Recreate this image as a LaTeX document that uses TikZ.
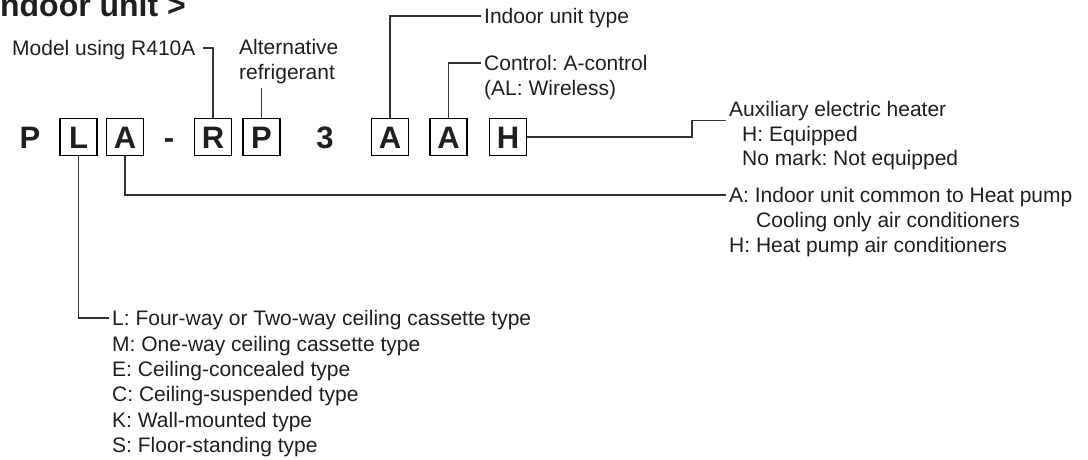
\documentclass[tikz,border=0pt]{standalone}
\usepackage{fontspec}
\setmainfont{Liberation Sans}
\usepackage{tikz}
\frenchspacing

\begin{document}
\begin{tikzpicture}[x=1pt, y=-1pt,
    lbl/.style={anchor=west, inner xsep=3pt, inner ysep=0pt, text height=15pt, text depth=0pt,
        font=\fontsize{21}{25}\selectfont, text=black!88},
    letter/.style={draw, line width=1.3pt, minimum width=37pt, minimum height=37pt, inner sep=0pt,
        text height=22pt, text depth=0pt, font=\fontsize{31}{31}\selectfont\bfseries, text=black!88},
    plain/.style={inner sep=0pt, text height=22pt, text depth=0pt,
        font=\fontsize{31}{31}\selectfont\bfseries, text=black!88},
    lead/.style={line width=1.1pt, draw=black!80}]
    \clip (0,0) rectangle (1088,459);
    \node[anchor=base west, inner sep=0pt, font=\fontsize{32}{32}\selectfont\bfseries, text=black!88] (title) at (-9,16) {Indoor unit >};

    % model code row
    \node[plain] (cP) at (30,137) {P};
    \node[letter] (bL) at (78.5,137) {L};
    \node[letter] (bA) at (125,137) {A};
    \node[plain] (dash) at (169,137) {-};
    \node[letter] (bR) at (213,137) {R};
    \node[letter] (bP) at (261.5,137) {P};
    \node[plain] (three) at (325,137) {3};
    \node[letter] (bA3) at (390,137) {A};
    \node[letter] (bA4) at (448.5,137) {A};
    \node[letter] (bH) at (508,137) {H};

    % labels above
    \node[lbl] (model) at (9,48) {Model using R410A};
    \node[lbl] (alt) at (236,47) {Alternative};
    \node[lbl] (refrig) at (236,72) {refrigerant};
    \node[lbl] (iut) at (481,16) {Indoor unit type};
    \node[lbl] (ctrl) at (481,63) {Control: A-control};
    \node[lbl] (wless) at (481,88) {(AL: Wireless)};

    % labels on the right
    \node[lbl] (aux) at (726,109) {Auxiliary electric heater};
    \node[lbl] (hEqp) at (739,133.5) {H: Equipped};
    \node[lbl] (noMark) at (739,158) {No mark: Not equipped};
    \node[lbl] (aCommon) at (726,195) {A: Indoor unit common to Heat pump};
    \node[lbl] (cooling) at (753,220) {Cooling only air conditioners};
    \node[lbl] (hHeat) at (726,245) {H: Heat pump air conditioners};

    % labels below
    \node[lbl] (lFour) at (109,318) {L: Four-way or Two-way ceiling cassette type};
    \node[lbl] (mOne) at (109,343.5) {M: One-way ceiling cassette type};
    \node[lbl] (eConc) at (109,369) {E: Ceiling-concealed type};
    \node[lbl] (cSusp) at (109,394) {C: Ceiling-suspended type};
    \node[lbl] (kWall) at (109,419.5) {K: Wall-mounted type};
    \node[lbl] (sFloor) at (109,445) {S: Floor-standing type};

    % leaders
    \draw[lead] (bR.north) |- ([xshift=4pt]model.east);
    \draw[lead] (bP.north) -- ([yshift=-8pt]bP.north |- refrig.south);
    \draw[lead] (bA3.north) |- (iut.west);
    \draw[lead] (bA4.north) |- (ctrl.west);
    \draw[lead] (bH.east) -| ([xshift=-34pt,yshift=-4pt]aux.south west) -- ([yshift=-4pt]aux.south west);
    \draw[lead] (bA.south) |- (aCommon.west);
    \draw[lead] (bL.south) |- (lFour.west);
\end{tikzpicture}
\end{document}
